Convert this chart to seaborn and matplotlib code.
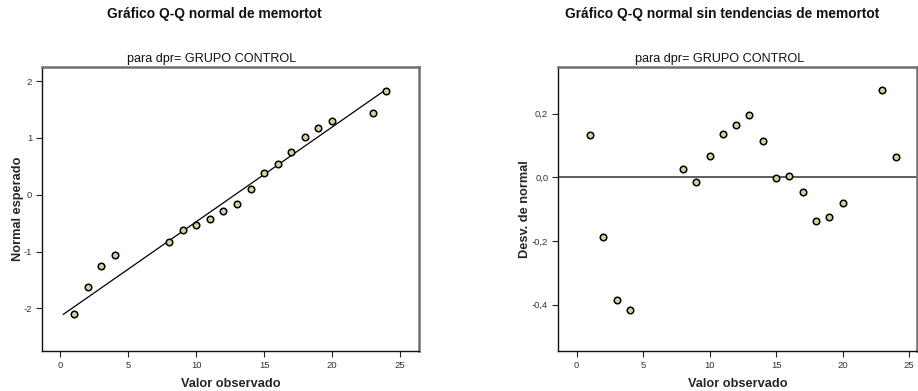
import numpy as np
import pandas as pd
import matplotlib
matplotlib.use("Agg")
import matplotlib.pyplot as plt
import seaborn as sns

# ---- data ----
observed = [1, 2, 3, 4, 8, 9, 10, 11, 12, 13, 14, 15, 16, 17, 18, 19, 20, 23, 24]
expected_normal = [-2.106, -1.625, -1.255, -1.056, -0.827, -0.620, -0.533, -0.433,
                   -0.293, -0.158, 0.095, 0.377, 0.535, 0.757, 1.010, 1.169, 1.292,
                   1.438, 1.820]
deviation = [0.134, -0.186, -0.386, -0.417, 0.026, -0.016, 0.066, 0.136, 0.163,
             0.195, 0.115, -0.003, 0.003, -0.045, -0.136, -0.125, -0.082, 0.274, 0.064]
sample_mean = 12.85
sample_sd = 6.0

title_left = "Gráfico Q-Q normal de memortot"
title_right = "Gráfico Q-Q normal sin tendencias de memortot"
subtitle = "para dpr= GRUPO CONTROL"
xlabel = "Valor observado"
ylabel_left = "Normal esperado"
ylabel_right = "Desv. de normal"
x_ticks = [0, 5, 10, 15, 20, 25]
y_ticks_left = [-2, -1, 0, 1, 2]
y_ticks_right = [-0.4, -0.2, 0.0, 0.2]
y_ticklabels_right = ["-0,4", "-0,2", "0,0", "0,2"]

df = pd.DataFrame({"obs": observed, "exp": expected_normal, "dev": deviation})

sns.set_theme(style="white")
plt.rcParams["font.family"] = ["Liberation Sans", "DejaVu Sans"]

W, H = 918, 391
fig = plt.figure(figsize=(W / 100, H / 100), dpi=100)

def axrect(x0, y0, x1, y1):
    return [x0 / W, 1 - y1 / H, (x1 - x0) / W, (y1 - y0) / H]

ax1 = fig.add_axes(axrect(42, 67, 419, 351))
ax2 = fig.add_axes(axrect(558, 67, 917, 351))

face = "#d8d09c"

def style(ax):
    for s in ["left", "bottom"]:
        ax.spines[s].set_color("#111111")
        ax.spines[s].set_linewidth(1.0)
    for s in ["top", "right"]:
        ax.spines[s].set_color("#707070")
        ax.spines[s].set_linewidth(1.8)
    ax.tick_params(axis="both", which="both", direction="out", length=4, width=0.8,
                   color="#222222", labelsize=6.8, labelcolor="#333333", pad=3,
                   left=True, bottom=True)
    ax.set_facecolor("white")

# left: Q-Q plot
ylo, yhi = min(expected_normal), max(expected_normal)
ax1.plot([sample_mean + sample_sd * ylo, sample_mean + sample_sd * yhi], [ylo, yhi],
         color="black", lw=0.9, zorder=2)
sns.scatterplot(data=df, x="obs", y="exp", ax=ax1, s=22, color=face,
                edgecolor="black", linewidth=1.1, zorder=3, legend=False)
ax1.set_xlim(-1.35, 26.4)
ax1.set_ylim(-2.75, 2.25)
ax1.set_xticks(x_ticks)
ax1.set_yticks(y_ticks_left)
ax1.set_yticklabels([str(v) for v in y_ticks_left])
style(ax1)
ax1.set_xlabel(xlabel, fontsize=9.2, fontweight="bold", labelpad=6)
ax1.set_ylabel(ylabel_left, fontsize=9.2, fontweight="bold", labelpad=-0.5)

# right: detrended
ax2.axhline(0, color="#505050", lw=1.3, zorder=2)
sns.scatterplot(data=df, x="obs", y="dev", ax=ax2, s=22, color=face,
                edgecolor="black", linewidth=1.1, zorder=3, legend=False)
ax2.set_xlim(-1.4, 25.6)
ax2.set_ylim(-0.545, 0.346)
ax2.set_xticks(x_ticks)
ax2.set_yticks(y_ticks_right)
ax2.set_yticklabels(y_ticklabels_right)
style(ax2)
ax2.set_xlabel(xlabel, fontsize=9.2, fontweight="bold", labelpad=6)
ax2.set_ylabel(ylabel_right, fontsize=9.2, fontweight="bold", labelpad=1)

# titles
fig.text(214 / W, 1 - 14 / H, title_left, ha="center", va="center",
         fontsize=9.9, fontweight="bold", color="#111111")
fig.text(722 / W, 1 - 14 / H, title_right, ha="center", va="center",
         fontsize=9.9, fontweight="bold", color="#111111")
fig.text(212 / W, 1 - 59 / H, subtitle, ha="center", va="center",
         fontsize=9.1, color="#111111")
fig.text(720 / W, 1 - 59 / H, subtitle, ha="center", va="center",
         fontsize=9.1, color="#111111")

fig.savefig("out.png", dpi=100)
